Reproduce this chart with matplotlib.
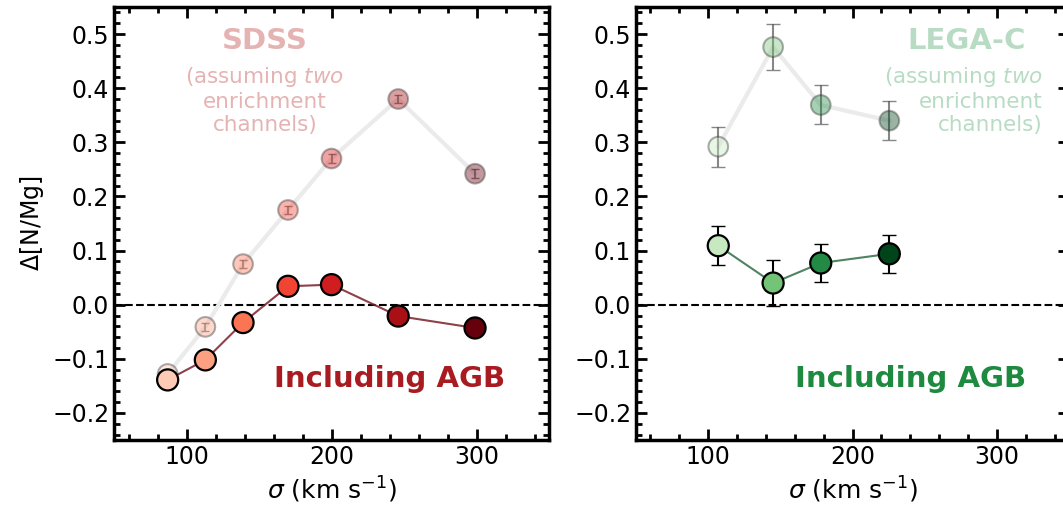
import numpy as np
import matplotlib.pyplot as plt
from matplotlib.ticker import MultipleLocator

# SDSS
sig_sdss = [87, 113, 139, 170, 200, 246, 299]
dnmg_sdss_two = [-0.128, -0.041, 0.075, 0.175, 0.270, 0.380, 0.242]
err_sdss_two = [0.008, 0.008, 0.008, 0.008, 0.008, 0.008, 0.008]
dnmg_sdss_agb = [-0.139, -0.102, -0.033, 0.034, 0.037, -0.021, -0.043]

# LEGA-C
sig_legac = [107, 145, 178, 225.5]
dnmg_legac_two = [0.292, 0.476, 0.369, 0.340]
err_legac_two = [0.037, 0.042, 0.036, 0.036]
dnmg_legac_agb = [0.109, 0.040, 0.077, 0.094]
err_legac_agb = [0.036, 0.042, 0.035, 0.035]


def style_axes(ax):
    ax.set_xlim(50, 350)
    ax.set_ylim(-0.25, 0.55)
    ax.xaxis.set_major_locator(MultipleLocator(100))
    ax.xaxis.set_minor_locator(MultipleLocator(20))
    ax.yaxis.set_major_locator(MultipleLocator(0.1))
    ax.yaxis.set_minor_locator(MultipleLocator(0.02))
    ax.tick_params(which='both', direction='in', top=True, right=True,
                   labelsize=17, width=2)
    ax.tick_params(which='major', length=8)
    ax.tick_params(which='minor', length=4)
    for s in ax.spines.values():
        s.set_linewidth(2.5)
    ax.axhline(0, color='k', ls='--', lw=1.5, zorder=1)
    ax.set_xlabel(r'$\sigma$ (km s$^{-1}$)', fontsize=18)


fig = plt.figure(figsize=(10.63, 5.08), dpi=100)
ax1 = fig.add_axes([114 / 1063, 1 - 440 / 508, 435 / 1063, 433 / 508])
ax2 = fig.add_axes([636 / 1063, 1 - 440 / 508, 433 / 1063, 433 / 508])

# left panel
red_cols = plt.cm.Reds(np.linspace(0.2, 1.0, len(sig_sdss)))
ax1.plot(sig_sdss, dnmg_sdss_two, color='#ebebeb', lw=3, zorder=2)
ax1.errorbar(sig_sdss, dnmg_sdss_two, yerr=err_sdss_two, fmt='none',
             ecolor='#555555', elinewidth=1.2, capsize=3, alpha=0.7, zorder=3)
ax1.scatter(sig_sdss, dnmg_sdss_two, s=200, c=red_cols, alpha=0.4,
            edgecolors='#333333', linewidths=1.5, zorder=4)
ax1.plot(sig_sdss, dnmg_sdss_agb, color='#7a1f2b', lw=1.5, alpha=0.85, zorder=5)
ax1.scatter(sig_sdss, dnmg_sdss_agb, s=230, c=red_cols, edgecolors='k',
            linewidths=1.6, zorder=6)
ax1.set_ylabel(r'$\Delta$[N/Mg]', fontsize=17)
ax1.text(154, 0.487, 'SDSS', color='#e6b3b3', fontsize=21, fontweight='bold',
         ha='center', va='center')
ax1.text(154, 0.378, '(assuming $\\it{two}$\nenrichment\nchannels)', color='#e6b3b3',
         fontsize=15.5, ha='center', va='center', linespacing=1.2)
ax1.text(320, -0.138, 'Including AGB', color='#a81b20', fontsize=21,
         fontweight='bold', ha='right', va='center')
style_axes(ax1)

# right panel
grn_cols = plt.cm.Greens(np.linspace(0.25, 1.0, len(sig_legac)))
ax2.plot(sig_legac, dnmg_legac_two, color='#ebebeb', lw=3, zorder=2)
ax2.errorbar(sig_legac, dnmg_legac_two, yerr=err_legac_two, fmt='none',
             ecolor='#555555', elinewidth=1.5, capsize=5, alpha=0.7, zorder=3)
ax2.scatter(sig_legac, dnmg_legac_two, s=200, c=grn_cols, alpha=0.4,
            edgecolors='#333333', linewidths=1.5, zorder=4)
ax2.errorbar(sig_legac, dnmg_legac_agb, yerr=err_legac_agb, fmt='none',
             ecolor='k', elinewidth=1.5, capsize=5, zorder=5)
ax2.plot(sig_legac, dnmg_legac_agb, color='#2f6e45', lw=1.5, alpha=0.85, zorder=5)
ax2.scatter(sig_legac, dnmg_legac_agb, s=230, c=grn_cols, edgecolors='k',
            linewidths=1.6, zorder=6)
ax2.text(320, 0.487, 'LEGA-C', color='#b8dcc3', fontsize=21, fontweight='bold',
         ha='right', va='center')
ax2.text(332, 0.378, '(assuming $\\it{two}$\nenrichment\nchannels)', color='#b8dcc3',
         fontsize=15.5, ha='right', va='center', linespacing=1.2)
ax2.text(320, -0.138, 'Including AGB', color='#1e8a40', fontsize=21,
         fontweight='bold', ha='right', va='center')
style_axes(ax2)

fig.savefig('out.png', dpi=100)
